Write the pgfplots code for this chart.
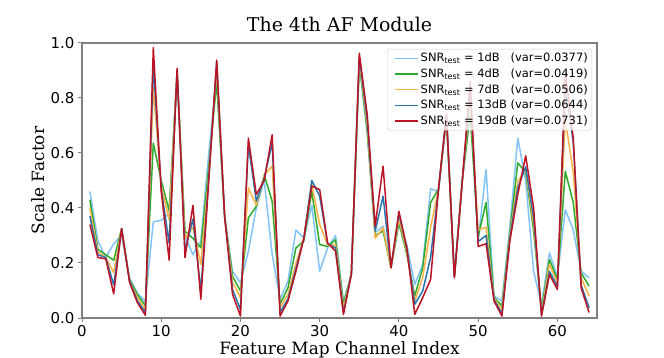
\documentclass[border=0pt]{standalone}
\usepackage{pgfplots}
\pgfplotsset{compat=1.18}
\usepackage{pgfplotstable}
\usepackage{fontspec}
\setmainfont{DejaVu Sans}
\newfontfamily\seriffont{DejaVu Serif}

\definecolor{snrA}{HTML}{82C4F8}
\definecolor{snrB}{HTML}{2CAA2C}
\definecolor{snrC}{HTML}{FFB347}
\definecolor{snrD}{HTML}{2874B0}
\definecolor{snrE}{HTML}{BB1424}
\definecolor{spine}{HTML}{808080}

% scale factor per channel, one column per test SNR
\pgfplotstableread{
ch  lb     gr     or     db     rd
1   0.46   0.43   0.40   0.37   0.34
2   0.28   0.25   0.24   0.23   0.22
3   0.22   0.23   0.22   0.22   0.215
4   0.27   0.21   0.165  0.12   0.088
5   0.30   0.325  0.325  0.325  0.325
6   0.145  0.14   0.135  0.135  0.13
7   0.09   0.085  0.074  0.062  0.055
8   0.06   0.045  0.03   0.02   0.01
9   0.35   0.636  0.835  0.92   0.983
10  0.355  0.50   0.48   0.47   0.46
11  0.38   0.39   0.357  0.272  0.21
12  0.88   0.89   0.895  0.90   0.908
13  0.30   0.315  0.29   0.245  0.22
14  0.23   0.29   0.33   0.36   0.41
15  0.28   0.255  0.195  0.10   0.068
16  0.60   0.55   0.52   0.51   0.50
17  0.88   0.86   0.91   0.93   0.938
18  0.37   0.37   0.37   0.37   0.37
19  0.17   0.152  0.13   0.104  0.086
20  0.128  0.098  0.074  0.03   0.007
21  0.243  0.364  0.473  0.63   0.654
22  0.40   0.406  0.41   0.425  0.449
23  0.50   0.52   0.52   0.51   0.50
24  0.231  0.425  0.552  0.636  0.666
25  0.068  0.05   0.037  0.02   0.007
26  0.134  0.11   0.086  0.07   0.062
27  0.32   0.255  0.20   0.18   0.17
28  0.29   0.28   0.29   0.29   0.29
29  0.41   0.46   0.485  0.50   0.48
30  0.17   0.267  0.34   0.443  0.467
31  0.255  0.26   0.265  0.27   0.273
32  0.30   0.285  0.267  0.255  0.243
33  0.06   0.05   0.035  0.02   0.013
34  0.16   0.16   0.16   0.16   0.16
35  0.926  0.93   0.94   0.95   0.963
36  0.67   0.68   0.70   0.72   0.739
37  0.31   0.30   0.29   0.316  0.334
38  0.334  0.316  0.328  0.443  0.552
39  0.19   0.183  0.18   0.183  0.183
40  0.34   0.346  0.36   0.38   0.388
41  0.267  0.231  0.24   0.25   0.255
42  0.122  0.08   0.062  0.05   0.013
43  0.195  0.183  0.146  0.098  0.074
44  0.47   0.42   0.33   0.22   0.14
45  0.46   0.47   0.47   0.47   0.47
46  0.72   0.73   0.73   0.74   0.74
47  0.15   0.15   0.15   0.15   0.146
48  0.50   0.50   0.50   0.50   0.50
49  0.80   0.74   0.80   0.83   0.86
50  0.28   0.296  0.32   0.278  0.26
51  0.54   0.42   0.33   0.30   0.27
52  0.08   0.075  0.072  0.068  0.062
53  0.062  0.044  0.03   0.015  0.007
54  0.33   0.31   0.30   0.29   0.28
55  0.654  0.564  0.497  0.473  0.449
56  0.50   0.53   0.54   0.55   0.59
57  0.17   0.316  0.34   0.364  0.40
58  0.05   0.03   0.02   0.012  0.007
59  0.237  0.213  0.195  0.17   0.158
60  0.15   0.14   0.128  0.115  0.104
61  0.394  0.533  0.72   0.84   0.896
62  0.32   0.42   0.53   0.64   0.654
63  0.17   0.164  0.146  0.12   0.11
64  0.146  0.116  0.08   0.037  0.02
}\scales

\begin{document}
\begin{tikzpicture}
\useasboundingbox (0,0) rectangle (664bp,358bp);
\begin{axis}[
  at={(82bp,40bp)}, anchor=south west,
  scale only axis, width=515bp, height=275bp,
  xmin=0, xmax=65, ymin=0, ymax=1,
  xtick={0,10,20,30,40,50,60},
  ytick={0,0.2,0.4,0.6,0.8,1.0},
  yticklabel style={/pgf/number format/.cd, fixed, fixed zerofill, precision=1},
  /pgf/number format/assume math mode=true,
  tick label style={font=\fontsize{15}{18}\selectfont},
  tick align=outside, major tick length=4bp,
  tick style={spine, line width=1bp},
  xtick pos=bottom, ytick pos=left,
  axis line style={spine, line width=1.2bp},
  title={\seriffont The 4th AF Module},
  title style={font=\fontsize{19}{22}\selectfont, at={(axis description cs:0.5,1)}, anchor=base, yshift=6bp},
  xlabel={\seriffont Feature Map Channel Index},
  xlabel style={font=\fontsize{17}{20}\selectfont, at={(axis description cs:0.5,-0.134)}, anchor=base},
  ylabel={\seriffont Scale Factor},
  ylabel style={font=\fontsize{17}{20}\selectfont, at={(axis description cs:-0.085,0.5)}, anchor=center},
  legend style={at={(1,1)}, anchor=north east, xshift=-5bp, yshift=-6bp,
    draw=gray!40, fill=white, fill opacity=0.8, text opacity=1,
    rounded corners=2bp, font=\fontsize{11.5}{13}\selectfont,
    row sep=1.5bp, inner sep=2bp},
  legend cell align=left,
  legend image code/.code={\path (-5bp,0bp); \draw[#1, line width=1.5bp] (0bp,0bp) -- (23bp,0bp);},
  every axis plot/.append style={line width=1.5bp, line join=round},
]
\addplot[snrA] table[x=ch, y=lb] {\scales};
\addlegendentry{SNR\textsubscript{test} = 1dB\phantom{1} (var=0.0377)}
\addplot[snrB] table[x=ch, y=gr] {\scales};
\addlegendentry{SNR\textsubscript{test} = 4dB\phantom{1} (var=0.0419)}
\addplot[snrC] table[x=ch, y=or] {\scales};
\addlegendentry{SNR\textsubscript{test} = 7dB\phantom{1} (var=0.0506)}
\addplot[snrD] table[x=ch, y=db] {\scales};
\addlegendentry{SNR\textsubscript{test} = 13dB (var=0.0644)}
\addplot[snrE] table[x=ch, y=rd] {\scales};
\addlegendentry{SNR\textsubscript{test} = 19dB (var=0.0731)}
\end{axis}
\end{tikzpicture}
\end{document}
